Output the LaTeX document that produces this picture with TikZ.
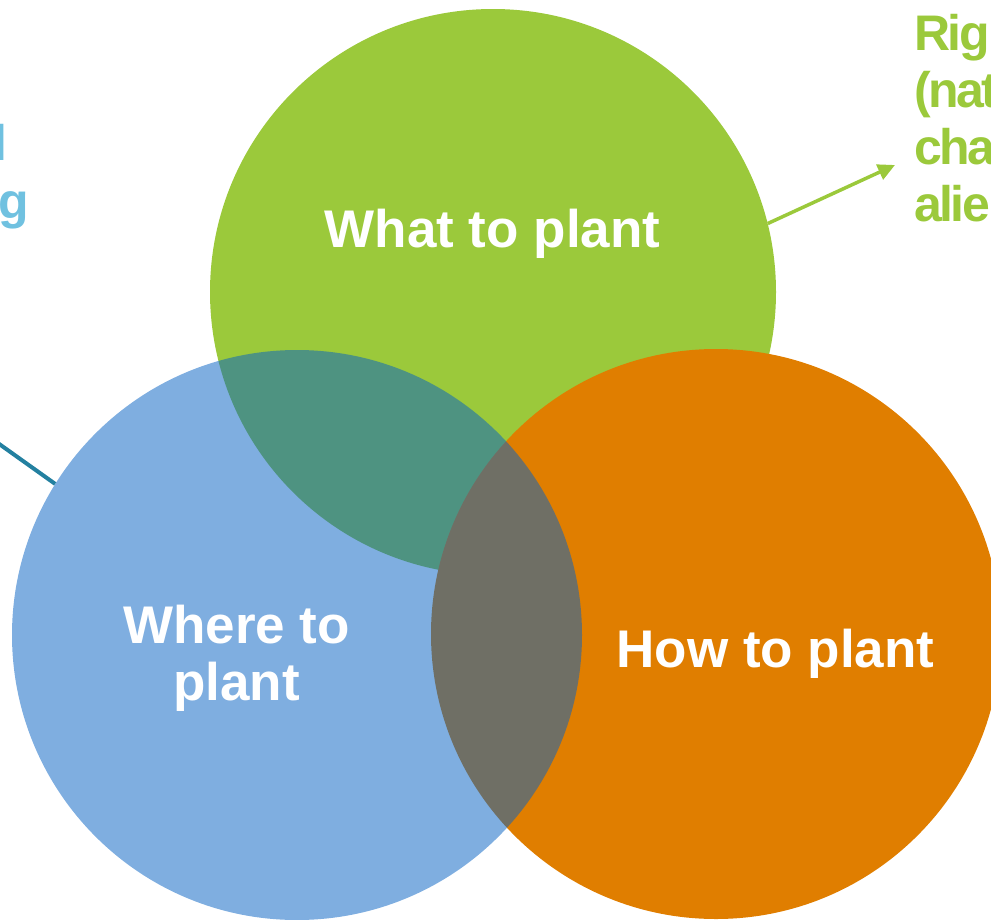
\documentclass[tikz,border=0pt]{standalone}
\usepackage{fontspec}
\setmainfont{Liberation Sans}
\newfontfamily\sidefont[LetterSpace=-5]{Liberation Sans}
\usetikzlibrary{arrows.meta}
\definecolor{leafgreen}{RGB}{155,201,59}
\definecolor{soilorange}{RGB}{224,126,0}
\definecolor{mapblue}{RGB}{9,99,195}
\definecolor{skyblue}{RGB}{112,193,224}
\definecolor{lineteal}{RGB}{35,128,160}
\tikzset{
  ring/.style={circle, inner sep=0pt, draw=none},
  bigfont/.style={font=\fontsize{53}{57}\selectfont\bfseries, inner sep=0pt},
  sidetext/.style={font=\sidefont\fontsize{50}{57}\selectfont\bfseries, inner sep=0pt},
  circtext/.style={bigfont, text=white, align=center, anchor=base},
}
\begin{document}
\begin{tikzpicture}[x=1pt,y=-1pt]
  \useasboundingbox (0,0) rectangle (991,919);
  \clip (0,0) rectangle (991,919);
  % the three circles
  \node[ring, minimum size=566pt, fill=leafgreen] (what) at (493,292) {};
  \node[ring, minimum size=570pt, fill=soilorange] (how) at (716,634) {};
  \node[ring, minimum size=570pt, fill=mapblue, fill opacity=0.52] (where) at (297,635) {};
  % labels inside (base = last line)
  \node[circtext] (whatlbl) at (492.5,247) {What to plant};
  \node[circtext] (wherelbl) at (236.5,700) {Where to\\plant};
  \node[circtext] (howlbl) at (775.5,667) {How to plant};
  % side texts, cut by the edge
  \node[sidetext, text=leafgreen, align=left, anchor=base west] (rightnote) at (914,221) {Rig\\(nat\\cha\\alie};
  \node[sidetext, text=skyblue, anchor=base east] (leftnote1) at (8,160) {l};
  \node[sidetext, text=skyblue, anchor=base east] (leftnote2) at (29,218) {g};
  % pointers
  \coordinate (arrowend) at (895,165);
  \coordinate (lineend) at (-5,441);
  \draw[leafgreen, line width=3.5pt, -{Triangle[length=17pt,width=16pt]}] (what.14.7) -- (arrowend);
  \draw[lineteal, line width=4pt] (where.148.9) -- (lineend);
\end{tikzpicture}
\end{document}
